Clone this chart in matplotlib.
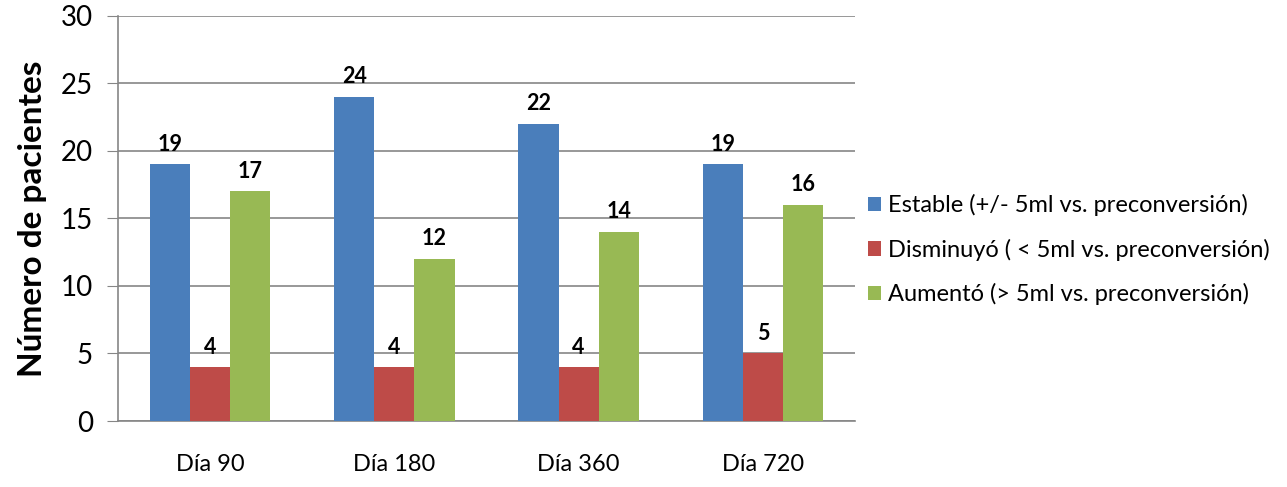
import numpy as np
import matplotlib.pyplot as plt

plt.rcParams['font.family'] = ['Lato', 'DejaVu Sans']

dias = ['Día 90', 'Día 180', 'Día 360', 'Día 720']
estable = [19, 24, 22, 19]
disminuyo = [4, 4, 4, 5]
aumento = [17, 12, 14, 16]
series = ['Estable (+/- 5ml vs. preconversión)',
          'Disminuyó ( < 5ml vs. preconversión)',
          'Aumentó (> 5ml vs. preconversión)']
colores = ['#4a7ebb', '#be4b48', '#98b954']

fig = plt.figure(figsize=(12.87, 4.87), dpi=100)
ax = fig.add_axes([0.0917, 0.1355, 0.5726, 0.832])

x = np.arange(len(dias))
w = 0.218
for i, (vals, lab, c) in enumerate(zip([estable, disminuyo, aumento], series, colores)):
    bars = ax.bar(x + (i - 1) * w, vals, w, color=c, label=lab, zorder=3)
    for b, v in zip(bars, vals):
        ax.text(b.get_x() + b.get_width() / 2, v + 0.7, str(v),
                ha='center', va='bottom', fontsize=15.5, fontweight='bold')

ax.set_xlim(-0.5, len(dias) - 0.5)
ax.set_ylim(0, 30)
ax.set_yticks(range(0, 31, 5))
ax.set_xticks(x)
ax.set_xticklabels(dias, fontsize=17)
ax.tick_params(axis='y', labelsize=20, length=8, color='#868686', pad=10)
ax.tick_params(axis='x', length=0, pad=24)
ax.yaxis.grid(True, color='#868686', linewidth=1.2, zorder=0)
for s in ['top', 'right']:
    ax.spines[s].set_visible(False)
for s in ['left', 'bottom']:
    ax.spines[s].set_color('#868686')
    ax.spines[s].set_linewidth(1.2)
ax.set_ylabel('Número de pacientes', fontsize=24, fontweight='bold', labelpad=10)

fig.legend(loc='center left', bbox_to_anchor=(0.658, 0.487), frameon=False,
           fontsize=17, handlelength=0.55, handleheight=0.55, handletextpad=0.3,
           labelspacing=0.95)

fig.savefig('out.png', dpi=100)
